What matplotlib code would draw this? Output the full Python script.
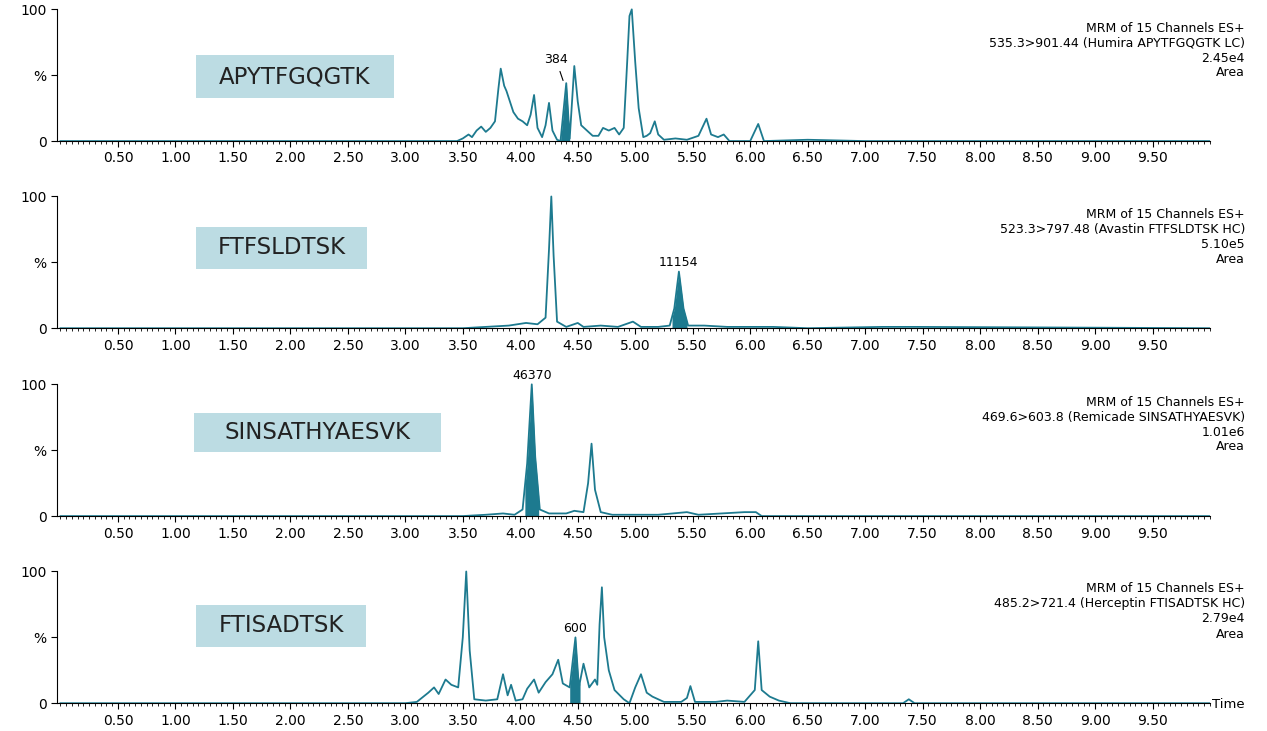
import matplotlib.pyplot as plt
import numpy as np
from matplotlib.patches import Rectangle
from matplotlib.ticker import MultipleLocator

# 每个通道的色谱数据 (时间, 相对强度%)
t1 = [0, 3.45, 3.50, 3.55, 3.58, 3.62, 3.66, 3.70, 3.74, 3.78, 3.81, 3.83, 3.86, 3.88, 3.91, 3.94, 3.98,
      4.02, 4.06, 4.09, 4.12, 4.15, 4.19, 4.22, 4.25, 4.28, 4.32, 4.35, 4.40, 4.43, 4.47, 4.50, 4.53, 4.58,
      4.63, 4.68, 4.72, 4.77, 4.82, 4.86, 4.90, 4.93, 4.95, 4.97, 5.00, 5.03, 5.07, 5.10, 5.13, 5.17, 5.20,
      5.25, 5.35, 5.45, 5.55, 5.62, 5.66, 5.72, 5.77, 5.82, 6.00, 6.07, 6.12, 6.50, 7.00, 10]
y1 = [0, 0, 2, 5, 3, 8, 11, 7, 10, 15, 40, 55, 42, 38, 30, 22, 17,
      15, 12, 20, 35, 10, 3, 12, 29, 8, 1, 0, 44, 2, 57, 30, 12, 8,
      4, 4, 10, 8, 10, 5, 10, 60, 95, 100, 60, 25, 3, 4, 6, 15, 5,
      1, 2, 1, 4, 17, 5, 3, 5, 0, 0, 13, 0, 1, 0, 0]

t2 = [0, 3.5, 3.9, 4.05, 4.15, 4.22, 4.25, 4.27, 4.29, 4.32, 4.4, 4.5, 4.55, 4.7, 4.85, 4.98, 5.05, 5.2,
      5.3, 5.34, 5.38, 5.42, 5.46, 5.6, 5.8, 6.2, 6.5, 7.15, 7.45, 10]
y2 = [0, 0, 2, 4, 3, 8, 60, 100, 55, 5, 1, 4, 1, 2, 1, 5, 1, 1,
      2, 15, 43, 15, 2, 2, 1, 1, 0, 1, 1, 0]

t3 = [0, 3.5, 3.7, 3.85, 3.95, 4.02, 4.06, 4.10, 4.13, 4.17, 4.25, 4.4, 4.47, 4.55, 4.59, 4.62, 4.65,
      4.70, 4.8, 5.0, 5.2, 5.45, 5.55, 5.95, 6.05, 6.1, 10]
y3 = [0, 0, 1, 2, 1, 5, 40, 100, 45, 5, 2, 2, 4, 3, 25, 55, 20,
      3, 1, 1, 1, 3, 1, 3, 3, 0, 0]

t4 = [0, 3.0, 3.1, 3.2, 3.25, 3.29, 3.35, 3.40, 3.46, 3.50, 3.53, 3.56, 3.60, 3.70, 3.80, 3.85, 3.89,
      3.92, 3.96, 4.02, 4.06, 4.12, 4.16, 4.22, 4.28, 4.33, 4.37, 4.43, 4.48, 4.51, 4.55, 4.60, 4.65,
      4.67, 4.69, 4.71, 4.73, 4.77, 4.82, 4.90, 4.95, 5.00, 5.05, 5.10, 5.15, 5.25, 5.40, 5.45, 5.48,
      5.52, 5.70, 5.80, 5.95, 6.04, 6.07, 6.10, 6.17, 6.25, 6.35, 7.33, 7.38, 7.43, 10]
y4 = [0, 0, 1, 8, 12, 7, 18, 14, 12, 50, 100, 40, 3, 2, 3, 22, 6,
      14, 2, 3, 11, 18, 8, 16, 22, 33, 15, 12, 50, 12, 30, 12, 18,
      14, 60, 88, 50, 25, 10, 3, 0, 12, 22, 8, 5, 1, 1, 4, 13,
      1, 1, 2, 1, 10, 47, 10, 5, 2, 0, 0, 3, 0, 0]

peptides = ['APYTFGQGTK', 'FTFSLDTSK', 'SINSATHYAESVK', 'FTISADTSK']
headers = ['535.3>901.44 (Humira APYTFGQGTK LC)', '523.3>797.48 (Avastin FTFSLDTSK HC)',
           '469.6>603.8 (Remicade SINSATHYAESVK)', '485.2>721.4 (Herceptin FTISADTSK HC)']
scales = ['2.45e4', '5.10e5', '1.01e6', '2.79e4']
peak_areas = ['384', '11154', '46370', '600']
peak_ranges = [(4.35, 4.43), (5.32, 5.45), (4.04, 4.16), (4.43, 4.52)]
peak_tops = [(4.40, 44), (5.38, 43), (4.10, 100), (4.48, 50)]

traces = [(t1, y1), (t2, y2), (t3, y3), (t4, y4)]
teal = '#1d7a8f'
box_color = '#bcdce3'

W, H = 1267, 731
fig = plt.figure(figsize=(12.67, 7.31), dpi=100)
bottoms = [0.807, 0.551, 0.294, 0.038]
# 标签框 (左, 上, 右, 下) 像素
boxes = [(196, 55, 394, 98), (196, 227, 367, 269), (194, 413, 441, 452), (196, 605, 366, 647)]
header_y = [28, 215, 402, 589]

for i, (t, y) in enumerate(traces):
    ax = fig.add_axes([0.045, bottoms[i], 0.91, 0.182])
    ax.plot(t, y, color=teal, lw=1.3, zorder=3)
    a, b = peak_ranges[i]
    xs = np.linspace(a, b, 50)
    ax.fill_between(xs, np.interp(xs, t, y), 0, color=teal, lw=0)
    ax.set_xlim(-0.03, 10.0)
    ax.set_ylim(0, 101)
    for s in ['top', 'right']:
        ax.spines[s].set_visible(False)
    ax.spines['left'].set_bounds(0, 100)
    ax.set_yticks([0, 50, 100])
    ax.set_yticklabels(['0', '%', '100'], fontsize=10)
    ax.tick_params(axis='y', length=4)
    ax.set_xticks([0.5 * k for k in range(1, 20)])
    ax.set_xticklabels([f'{0.5 * k:.2f}' for k in range(1, 20)], fontsize=10)
    ax.xaxis.set_minor_locator(MultipleLocator(0.05))
    ax.tick_params(axis='x', which='major', length=4)
    ax.tick_params(axis='x', which='minor', length=2)

    px, py = peak_tops[i]
    if i == 0:
        ax.annotate(peak_areas[i], xy=(px - 0.02, py), xytext=(4.31, 57), ha='center', va='bottom',
                    fontsize=9, arrowprops=dict(arrowstyle='-', lw=0.8, color='black'), annotation_clip=False)
    else:
        ax.text(px, py + 2, peak_areas[i], ha='center', va='bottom', fontsize=9)

    l, tp, r, bt = boxes[i]
    fig.patches.append(Rectangle((l / W, 1 - bt / H), (r - l) / W, (bt - tp) / H,
                                 transform=fig.transFigure, fc=box_color, ec='none'))
    fig.text((l + r) / 2 / W, 1 - (tp + bt) / 2 / H, peptides[i], ha='center', va='center',
             fontsize=16.5, color='#222222')
    hy = header_y[i]
    lines = ['MRM of 15 Channels ES+', headers[i], scales[i], 'Area']
    for j, line in enumerate(lines):
        fig.text(1245 / W, 1 - (hy + 15 * j) / H, line, ha='right', va='center', fontsize=9)

fig.text(1228 / W, 1 - 704 / H, 'Time', ha='center', va='center', fontsize=9.5)

plt.savefig('out.png', dpi=100)
